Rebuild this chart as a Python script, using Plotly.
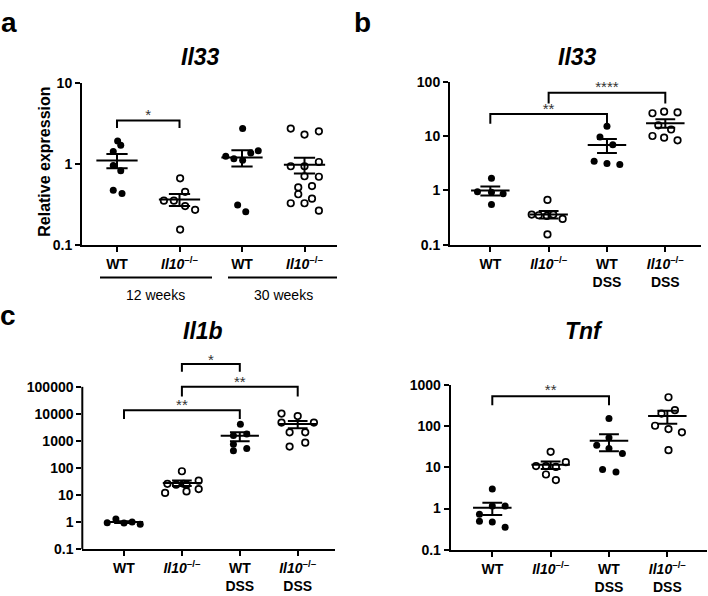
import numpy as np
import plotly.graph_objects as go

FONT = "Liberation Sans, Arial, sans-serif"
W, H = 708, 596

# ---------------- data ----------------
KO = "<i>Il10</i><sup>–/–</sup>"
A_CATS = ["WT", KO, "WT", KO]
A_GROUPS = ["12 weeks", "30 weeks"]
A_WT12 = [1.90, 1.69, 1.41, 0.95, 0.82, 0.47, 0.43]
A_KO12 = [0.66, 0.45, 0.35, 0.35, 0.30, 0.27, 0.154]
A_WT30 = [2.71, 1.24, 1.15, 1.10, 1.36, 1.44, 0.31, 0.256]
A_KO30 = [2.71, 2.29, 2.51, 0.93, 0.93, 1.05, 0.70, 0.69, 0.51, 0.53, 0.42,
          0.325, 0.325, 0.37, 0.263]

DSS_CATS = ["WT", KO, "WT<br>DSS", KO + "<br>DSS"]
B_WT = [1.69, 0.95, 0.93, 0.87, 0.55]
B_KO = [0.67, 0.36, 0.35, 0.34, 0.36, 0.30, 0.155]
B_WTDSS = [15.2, 9.7, 6.95, 3.45, 3.13, 3.0]
B_KODSS = [26.5, 28.3, 27.4, 15.9, 13.3, 10.1, 9.4, 8.4]

C1_WT = [0.95, 1.3, 0.92, 1.0, 0.82]
C1_KO = [75.7, 25.8, 24, 26, 24, 33.9, 11.9, 13.6, 16.6]
C1_WTDSS = [4150, 1585, 1810, 752, 431, 522]
C1_KODSS = [10300, 8320, 4780, 4780, 2080, 2080, 617, 859]

C2_WT = [2.97, 1.15, 1.15, 0.73, 0.49, 0.47, 0.35]
C2_KO = [23.8, 10.7, 10.7, 10.2, 13.3, 6.7, 4.9]
C2_WTDSS = [154, 51.9, 34.3, 28.5, 21.7, 8.8, 7.7]
C2_KODSS = [501, 202, 243, 102, 84.7, 70.8, 26.1]

# horizontal spread of the dots (category units)
J_A_WT12 = [0.01, 0.06, -0.06, -0.06, 0.06, -0.06, 0.08]
J_A_KO12 = [0.01, 0.09, -0.25, -0.09, 0.09, 0.25, 0.01]
J_A_WT30 = [0.01, -0.26, -0.13, 0.01, 0.14, 0.26, -0.07, 0.06]
J_A_KO30 = [-0.22, 0, 0.23, -0.22, 0, 0.23, 0, 0.23, -0.1, 0.12, -0.1,
            -0.22, 0, 0.12, 0.23]
J_B_WT = [0.02, -0.22, 0.02, 0.22, 0.02]
J_B_KO = [-0.02, -0.29, -0.17, -0.03, 0.08, 0.24, -0.02]
J_B_WTDSS = [0, -0.12, 0.1, -0.22, 0, 0.22]
J_B_KODSS = [-0.22, -0.02, 0.21, -0.12, 0.1, -0.22, -0.02, 0.21]
J_C1_WT = [-0.29, -0.14, 0, 0.14, 0.28]
J_C1_KO = [0, -0.25, -0.1, 0.03, 0.08, 0.29, -0.29, 0.08, 0.29]
J_C1_WTDSS = [0.01, -0.11, 0.12, -0.11, -0.11, 0.12]
J_C1_KODSS = [-0.28, 0, -0.28, 0.28, -0.14, 0.13, -0.14, 0.13]
J_C2_WT = [0, 0, 0.22, -0.22, -0.22, 0, 0.22]
J_C2_KO = [0, -0.25, -0.08, 0.09, 0.26, -0.08, 0.09]
J_C2_WTDSS = [0, 0, -0.21, 0, 0.23, -0.11, 0.12]
J_C2_KODSS = [0.02, -0.1, 0.13, -0.21, 0.02, 0.25, 0.02]

fig = go.Figure()


def px2x(p):
    return p / W


def py2y(p):
    return 1 - p / H


def add_group(ax, center, vals, jit, filled):
    xa, ya = ax
    v = np.array(vals, dtype=float)
    xs = [center + j for j in jit]
    if filled:
        mk = dict(size=7, color="black", line=dict(width=0))
    else:
        mk = dict(size=6.5, color="white", line=dict(width=1.7, color="black"))
    fig.add_trace(go.Scatter(x=xs, y=v, mode="markers", marker=mk,
                             xaxis=xa, yaxis=ya, showlegend=False,
                             cliponaxis=False, hoverinfo="y"))
    m = v.mean()
    se = v.std(ddof=1) / np.sqrt(len(v))
    lo, hi = m - se, m + se
    hw, cw = 0.33, 0.17
    lx = [center - hw, center + hw, None, center, center, None,
          center - cw, center + cw, None, center - cw, center + cw]
    ly = [m, m, None, lo, hi, None, lo, lo, None, hi, hi]
    fig.add_trace(go.Scatter(x=lx, y=ly, mode="lines",
                             line=dict(color="black", width=2),
                             xaxis=xa, yaxis=ya, showlegend=False,
                             hoverinfo="skip"))


def bracket(ax, x1, x2, top, leg1, leg2, star, star_y):
    xa, ya = ax
    fig.add_trace(go.Scatter(x=[x1, x1, x2, x2], y=[leg1, top, top, leg2],
                             mode="lines", line=dict(color="black", width=2),
                             xaxis=xa, yaxis=ya, showlegend=False,
                             hoverinfo="skip"))
    fig.add_trace(go.Scatter(x=[(x1 + x2) / 2], y=[star_y], mode="text",
                             text=[star], textposition="middle center",
                             textfont=dict(size=15, color="#333", family=FONT),
                             xaxis=xa, yaxis=ya, showlegend=False,
                             cliponaxis=False, hoverinfo="skip"))


AX_A = ("x", "y")
AX_B = ("x2", "y2")
AX_C1 = ("x3", "y3")
AX_C2 = ("x4", "y4")

# panel a
add_group(AX_A, 1, A_WT12, J_A_WT12, True)
add_group(AX_A, 2, A_KO12, J_A_KO12, False)
add_group(AX_A, 3, A_WT30, J_A_WT30, True)
add_group(AX_A, 4, A_KO30, J_A_KO30, False)
bracket(AX_A, 1, 2, 3.4, 2.76, 2.76, "*", 3.9)

# panel b
add_group(AX_B, 1, B_WT, J_B_WT, True)
add_group(AX_B, 2, B_KO, J_B_KO, False)
add_group(AX_B, 3, B_WTDSS, J_B_WTDSS, True)
add_group(AX_B, 4, B_KODSS, J_B_KODSS, False)
bracket(AX_B, 1, 3, 25.7, 17, 17, "**", 30.7)
bracket(AX_B, 2, 4, 63, 40, 40, "****", 75)

# panel c left
add_group(AX_C1, 1, C1_WT, J_C1_WT, True)
add_group(AX_C1, 2, C1_KO, J_C1_KO, False)
add_group(AX_C1, 3, C1_WTDSS, J_C1_WTDSS, True)
add_group(AX_C1, 4, C1_KODSS, J_C1_KODSS, False)
bracket(AX_C1, 2, 3, 7.0e5, 3.6e5, 3.6e5, "*", 8.85e5)
bracket(AX_C1, 2, 4, 1.0e5, 4.4e4, 4.4e4, "**", 1.35e5)
bracket(AX_C1, 1, 3, 1.37e4, 6.5e3, 6.5e3, "**", 1.85e4)

# panel c right
add_group(AX_C2, 1, C2_WT, J_C2_WT, True)
add_group(AX_C2, 2, C2_KO, J_C2_KO, False)
add_group(AX_C2, 3, C2_WTDSS, J_C2_WTDSS, True)
add_group(AX_C2, 4, C2_KODSS, J_C2_KODSS, False)
bracket(AX_C2, 1, 3, 530, 319, 319, "**", 695)


def xaxis(dom, rng, ticktext, anchor):
    return dict(domain=dom, range=rng, anchor=anchor, tickvals=[1, 2, 3, 4],
                ticktext=ticktext, showline=True, linewidth=2, linecolor="black",
                ticks="outside", ticklen=5, tickwidth=2, tickcolor="black",
                showgrid=False, zeroline=False, fixedrange=True,
                tickfont=dict(family=FONT, size=14, color="black", weight="bold"))


def yaxis(dom, rng, top_exp, anchor, showline=True):
    vals = [10.0 ** e for e in range(-1, top_exp + 1)]
    txt = ["0.1"] + [str(int(round(v))) for v in vals[1:]]
    return dict(domain=dom, range=rng, type="log", anchor=anchor,
                tickvals=vals, ticktext=txt, showline=showline, linewidth=2,
                linecolor="black", ticks="outside", ticklen=5, tickwidth=2,
                tickcolor="black", showgrid=False, zeroline=False, fixedrange=True,
                tickfont=dict(family=FONT, size=14, color="black", weight="bold"))


C1_TOP = 6.3
fig.update_layout(
    width=W, height=H, margin=dict(l=0, r=0, t=0, b=0),
    paper_bgcolor="white", plot_bgcolor="white", showlegend=False,
    font=dict(family=FONT, color="black"),
    xaxis=xaxis([px2x(82), px2x(337)], [0.44, 4.52], A_CATS, "y"),
    yaxis=yaxis([py2y(243.3), py2y(76.7)], [-1, 1], 1, "x"),
    xaxis2=xaxis([px2x(450), px2x(701)], [0.309, 4.612], DSS_CATS, "y2"),
    yaxis2=yaxis([py2y(243.3), py2y(76)], [-1, 2], 2, "x2"),
    xaxis3=xaxis([px2x(82.3), px2x(335)], [0.28, 4.644], DSS_CATS, "y3"),
    yaxis3=yaxis([py2y(556), py2y(556 - 27.78 * (C1_TOP + 1))], [-1, C1_TOP], 5,
                 "x3", showline=False),
    xaxis4=xaxis([px2x(450.7), px2x(707)], [0.287, 4.68], DSS_CATS, "y4"),
    yaxis4=yaxis([py2y(556.7), py2y(387.3)], [-1, 3], 3, "x4"),
)

# y-axis line for panel c left (stops at the top tick)
fig.add_shape(type="line", xref="x3 domain", yref="y3 domain",
              x0=0, x1=0, y0=0, y1=6 / (C1_TOP + 1),
              line=dict(color="black", width=2))

# group lines under panel a
for a, b in [(100, 212), (228, 337)]:
    fig.add_shape(type="line", xref="paper", yref="paper",
                  x0=px2x(a), x1=px2x(b), y0=py2y(277), y1=py2y(277),
                  line=dict(color="black", width=2))

ann = []


def text(x, y, s, size, bold=True, italic=False, angle=0):
    st = s
    if italic:
        st = "<i>" + st + "</i>"
    ann.append(dict(x=px2x(x), y=py2y(y), xref="paper", yref="paper", text=st,
                    showarrow=False, xanchor="center", yanchor="middle",
                    textangle=angle,
                    font=dict(family=FONT, size=size, color="black",
                              weight="bold" if bold else "normal")))


text(9, 15, "a", 28)
text(362, 15, "b", 28)
text(8, 316, "c", 28)
text(200, 50, "Il33", 23, italic=True)
text(577, 50, "Il33", 23, italic=True)
text(203, 332, "Il1b", 23, italic=True)
text(584, 332, "Tnf", 23, italic=True)
text(45, 158, "Relative expression", 16, angle=-90)
text(155, 295, A_GROUPS[0], 14, bold=False)
text(283, 295, A_GROUPS[1], 14, bold=False)
fig.update_layout(annotations=ann)

fig.write_html("out.html",
               config={"displayModeBar": False},
               post_script="document.body.style.margin='0';"
                           "document.body.style.overflow='hidden';")
